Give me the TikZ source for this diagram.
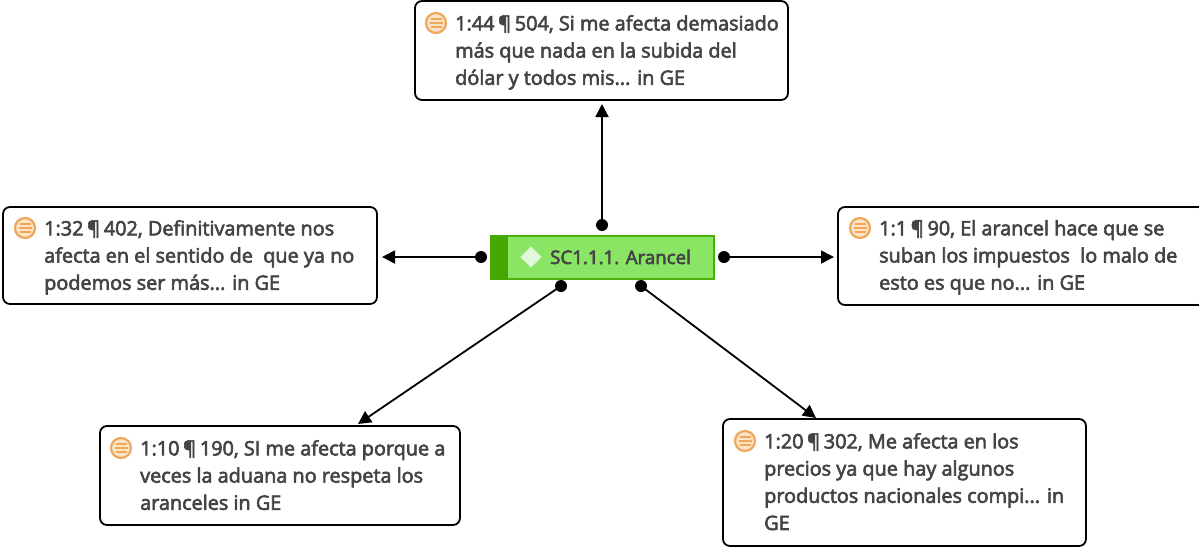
\documentclass[tikz,border=0pt]{standalone}
\usepackage{fontspec}
\setmainfont{Open Sans}
\usetikzlibrary{arrows.meta,shapes.geometric}
\definecolor{txtc}{HTML}{444444}
\definecolor{greenf}{HTML}{8BE565}
\definecolor{greene}{HTML}{4CAF0A}
\definecolor{greend}{HTML}{44A800}
\definecolor{iconc}{HTML}{EFA75A}
\definecolor{iconf}{HTML}{FBE3C8}
\newcommand{\pil}{\kern-1.5pt¶\kern-1.5pt}
\tikzset{
  x=1pt,y=-1pt,
  quote/.style={draw=black,line width=1.8pt,rounded corners=7pt,fill=white},
  heavy/.style={execute at begin node={\special{pdf:code 2 Tr 0.6 w}}},
  quotetext/.style={heavy,anchor=north west,inner sep=0pt,align=left,text=txtc,font=\fontsize{19.85}{27.2}\selectfont},
  dotn/.style={circle,fill=black,inner sep=0pt,minimum size=12pt},
  link/.style={draw=black,line width=1.8pt,-{Triangle[length=13pt,width=13pt]},shorten <=0pt},
  icon/.pic={
    \fill[iconf] (0,0) circle (10.5);
    \draw[iconc,line width=2.2pt] (0,0) circle (10);
    \draw[iconc,line width=1.7pt] (-5.5,-4)--(5.5,-4) (-6.5,0)--(6.5,0) (-5.5,4)--(5.5,4);
  }
}
\begin{document}
\begin{tikzpicture}
\useasboundingbox (0,0) rectangle (1199,547);
% boxes
\path[quote] (415,1) rectangle (788,100);
\path[quote] (3,207) rectangle (377,304);
\path[quote] (838,207) rectangle (1205,305);
\path[quote] (100,426) rectangle (460,525);
\path[quote] (723,419) rectangle (1086,546);
\clip (0,0) rectangle (1199,547);
\coordinate (ctop) at (602,104);
\coordinate (cleft) at (382,257);
\coordinate (cright) at (834,257);
\coordinate (cll) at (358,424);
\coordinate (clr) at (816,418);
% icons
\pic at (436,23) {icon};
\pic at (25,228) {icon};
\pic at (860,228) {icon};
\pic at (121,448) {icon};
\pic at (745,441) {icon};
% texts
\node[quotetext] (t1) at (455,15) {1:44 \pil{} 504, Si me afecta demasiado\\más que nada en la subida del\\dólar y todos mis... in GE};
\node[quotetext] (t2) at (44,220) {1:32 \pil{} 402, Definitivamente nos\\afecta en el sentido de\ \ que ya no\\podemos ser más... in GE};
\node[quotetext] (t3) at (879,220) {1:1 \pil{} 90, El arancel hace que se\\suban los impuestos\ \ lo malo de\\esto es que no... in GE};
\node[quotetext] (t4) at (140,440) {1:10 \pil{} 190, SI me afecta porque a\\veces la aduana no respeta los\\aranceles in GE};
\node[quotetext] (t5) at (764,433) {1:20 \pil{} 302, Me afecta en los\\precios ya que hay algunos\\productos nacionales compi... in\\GE};
% central node
\fill[greenf] (490,235) rectangle (715,280);
\draw[greene,line width=1.6pt] (490.8,235.8) rectangle (714.2,279.2);
\fill[greend] (490,235) rectangle (508,280);
\node[diamond,fill=white,fill opacity=.75,draw=white,draw opacity=.4,inner sep=0pt,minimum size=21pt] (dia) at (531,257) {};
\node[heavy,anchor=base west,inner sep=0pt,text=txtc,font=\fontsize{18.7}{24}\selectfont] (center) at (550,264) {SC1.1.1. Arancel};
% dots
\node[dotn] (d1) at (602,225) {};
\node[dotn] (d2) at (481,257) {};
\node[dotn] (d3) at (724,257) {};
\node[dotn] (d4) at (561,286) {};
\node[dotn] (d5) at (641,286) {};
% connectors
\draw[link] (d1.center) -- (ctop);
\draw[link] (d2.center) -- (cleft);
\draw[link] (d3.center) -- (cright);
\draw[link] (d4.center) -- (cll);
\draw[link] (d5.center) -- (clr);
\end{tikzpicture}
\end{document}
